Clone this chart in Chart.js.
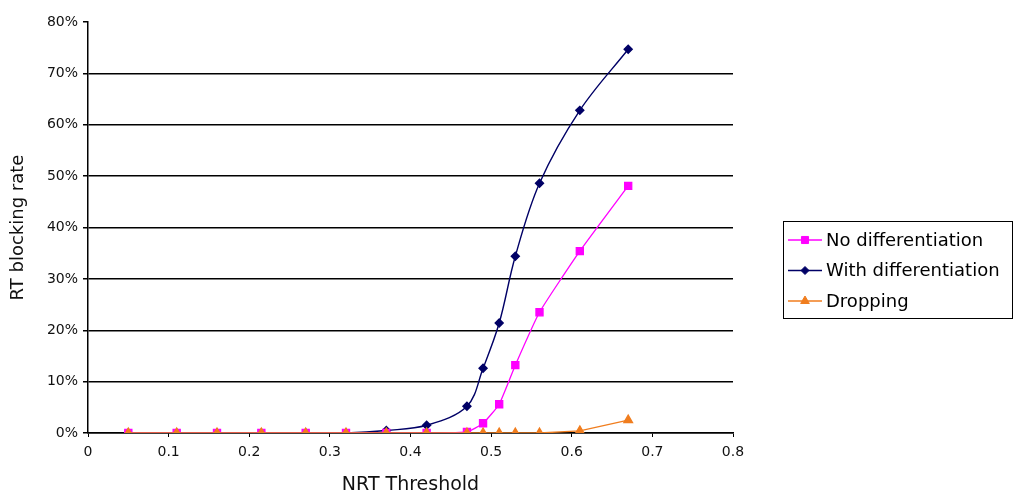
<!DOCTYPE html>
<html>
<head>
<meta charset="utf-8">
<script src="https://cdn.jsdelivr.net/npm/chart.js@4.4.1/dist/chart.umd.min.js"></script>
<style>
  html, body { margin: 0; padding: 0; background: #fff; }
  #wrap { width: 1019px; height: 500px; }
</style>
</head>
<body>
<div id="wrap"><canvas id="chart" width="1019" height="500"></canvas></div>
<script>
// data (x = NRT threshold, y = blocking rate in %)
const thresholds = [0.05, 0.11, 0.16, 0.215, 0.27, 0.32, 0.37, 0.42, 0.47, 0.49, 0.51, 0.53, 0.56, 0.61, 0.67];
const noDifferentiation = [0, 0, 0, 0, 0, 0, 0, 0, 0.2, 1.9, 5.6, 13.2, 23.5, 35.4, 48.1];
const withDifferentiation = [0, 0, 0, 0, 0, 0, 0.5, 1.5, 5.2, 12.6, 21.4, 34.4, 48.6, 62.8, 74.7];
const dropping = [0, 0, 0, 0, 0, 0, 0, 0, 0, 0, 0, 0, 0, 0.4, 2.5];
const seriesNames = ['No differentiation', 'With differentiation', 'Dropping'];
const xTickLabels = ['0', '0.1', '0.2', '0.3', '0.4', '0.5', '0.6', '0.7', '0.8'];
const yTickLabels = ['0%', '10%', '20%', '30%', '40%', '50%', '60%', '70%', '80%'];

const toPoints = ys => ys.map((y, i) => ({ x: thresholds[i], y: y }));

const FONT = '"DejaVu Sans", sans-serif';

// legend box drawn by hand (line + marker + label, with a frame)
const boxLegend = {
    id: 'boxLegend',
    afterDraw(chart) {
        const ctx = chart.ctx;
        const x0 = 783, y0 = 221, w = 229, h = 97;
        ctx.save();
        ctx.strokeStyle = '#000';
        ctx.lineWidth = 1;
        ctx.strokeRect(x0 + 0.5, y0 + 0.5, w, h);
        ctx.font = '18px ' + FONT;
        ctx.textBaseline = 'middle';
        chart.data.datasets.forEach((ds, i) => {
            const cy = y0 + 19 + i * 30.5;
            ctx.strokeStyle = ds.borderColor;
            ctx.lineWidth = 1.3;
            ctx.beginPath();
            ctx.moveTo(x0 + 5, cy);
            ctx.lineTo(x0 + 39, cy);
            ctx.stroke();
            ctx.fillStyle = ds.pointBackgroundColor;
            ctx.strokeStyle = ds.pointBorderColor;
            ctx.lineWidth = 1;
            Chart.helpers.drawPoint(ctx, {
                pointStyle: ds.pointStyle,
                radius: ds.pointRadius,
                rotation: 0,
                borderWidth: 1
            }, x0 + 22, cy);
            ctx.fillStyle = '#000';
            ctx.fillText(ds.label, x0 + 43, cy + 1);
        });
        ctx.restore();
    }
};

new Chart(document.getElementById('chart'), {
    type: 'line',
    data: {
        datasets: [{
            label: seriesNames[0],
            data: toPoints(noDifferentiation),
            borderColor: '#ff00ff',
            backgroundColor: '#ff00ff',
            pointBackgroundColor: '#ff00ff',
            pointBorderColor: '#ff00ff',
            pointStyle: 'rect',
            pointRadius: 5,
            borderWidth: 1.3,
            tension: 0.15,
            order: 1
        }, {
            label: seriesNames[1],
            data: toPoints(withDifferentiation),
            borderColor: '#000066',
            backgroundColor: '#000066',
            pointBackgroundColor: '#000066',
            pointBorderColor: '#000066',
            pointStyle: 'rectRot',
            pointRadius: 4,
            borderWidth: 1.4,
            tension: 0.35,
            order: 2
        }, {
            label: seriesNames[2],
            data: toPoints(dropping),
            borderColor: '#f07d1e',
            backgroundColor: '#f07d1e',
            pointBackgroundColor: '#f07d1e',
            pointBorderColor: '#f07d1e',
            pointStyle: 'triangle',
            pointRadius: 5,
            borderWidth: 1.3,
            tension: 0,
            order: 0
        }]
    },
    options: {
        responsive: false,
        animation: false,
        layout: { padding: { top: 22, right: 286, left: 0, bottom: 0 } },
        plugins: {
            legend: { display: false },
            tooltip: { enabled: false }
        },
        scales: {
            x: {
                type: 'linear',
                min: 0,
                max: 0.8,
                afterFit: s => { s.height = 67; },
                border: { color: '#000', width: 1.5 },
                grid: { drawOnChartArea: false, drawTicks: true, tickLength: 4, color: '#000', lineWidth: 1 },
                ticks: {
                    stepSize: 0.1,
                    padding: 7,
                    color: '#111',
                    font: { family: FONT, size: 14 },
                    callback: (v, i) => xTickLabels[i]
                },
                title: {
                    display: true,
                    text: 'NRT Threshold',
                    color: '#111',
                    font: { family: FONT, size: 19 },
                    padding: { top: 8 }
                }
            },
            y: {
                min: 0,
                max: 80,
                afterFit: s => { s.width = 88; },
                border: { color: '#000', width: 1.5 },
                grid: {
                    color: c => (c.tick && c.tick.value === 80) ? 'rgba(0,0,0,0)' : '#000',
                    tickColor: '#000',
                    lineWidth: 1.5,
                    tickLength: 5
                },
                ticks: {
                    stepSize: 10,
                    padding: 5,
                    color: '#111',
                    font: { family: FONT, size: 14 },
                    callback: (v, i) => yTickLabels[i]
                },
                title: {
                    display: true,
                    text: 'RT blocking rate',
                    color: '#111',
                    font: { family: FONT, size: 18 },
                    padding: { top: 8, bottom: 4 }
                }
            }
        }
    },
    plugins: [boxLegend]
});
</script>
</body>
</html>
